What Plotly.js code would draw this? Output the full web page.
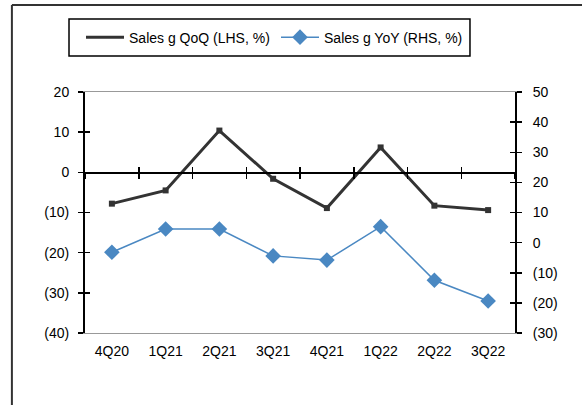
<!DOCTYPE html>
<html>
<head>
<meta charset="utf-8">
<script src="https://cdn.plot.ly/plotly-3.0.1.min.js"></script>
<style>html,body{margin:0;padding:0;background:#fff;}#chart{width:582px;height:405px;}</style>
</head>
<body>
<div id="chart"></div>
<script>
const quarters = ["4Q20","1Q21","2Q21","3Q21","4Q21","1Q22","2Q22","3Q22"];
const salesQoQ = [-7.8, -4.5, 10.4, -1.6, -8.9, 6.2, -8.3, -9.4];
const salesYoY = [-3.2, 4.5, 4.5, -4.4, -5.8, 5.3, -12.5, -19.4];
const leftTickVals = [20, 10, 0, -10, -20, -30, -40];
const leftTickText = ["20", "10", "0", "(10)", "(20)", "(30)", "(40)"];
const rightTickVals = [50, 40, 30, 20, 10, 0, -10, -20, -30];
const rightTickText = ["50", "40", "30", "20", "10", "0", "(10)", "(20)", "(30)"];
const seriesNames = ["Sales g QoQ (LHS, %)", "Sales g YoY (RHS, %)"];

const FONT = "Liberation Sans, Arial, sans-serif";
const dark = "#333333";
const blue = "#4a88c2";

const traces = [
  {x: quarters, y: salesQoQ, name: seriesNames[0], type: "scatter", mode: "lines",
   xaxis: "x", yaxis: "y", line: {color: dark, width: 3}},
  {x: quarters, y: salesQoQ, name: seriesNames[0], type: "scatter", mode: "markers", showlegend: false,
   xaxis: "x", yaxis: "y", marker: {symbol: "square", size: 6, color: dark}},
  {x: quarters, y: salesYoY, name: seriesNames[1], type: "scatter", mode: "lines+markers",
   xaxis: "x2", yaxis: "y2",
   line: {color: blue, width: 1.5}, marker: {symbol: "diamond", size: 12, color: blue}},
  {x: quarters, y: quarters.map(() => null), xaxis: "x3", yaxis: "y", showlegend: false,
   hoverinfo: "skip", type: "scatter", mode: "lines"},
  {x: quarters, y: quarters.map(() => null), xaxis: "x", yaxis: "y3", showlegend: false,
   hoverinfo: "skip", type: "scatter", mode: "lines"},
  {x: quarters, y: quarters.map(() => null), xaxis: "x", yaxis: "y4", showlegend: false,
   hoverinfo: "skip", type: "scatter", mode: "lines"}
];

const zeroPos = (0 - (-40)) / (20 - (-40));

const layout = {
  width: 582, height: 405,
  margin: {l: 85, r: 67, t: 92, b: 72},
  paper_bgcolor: "#fff", plot_bgcolor: "#fff",
  font: {family: FONT, size: 14, color: "#000"},
  showlegend: true,
  legend: {orientation: "h", x: -0.0093, xanchor: "left", y: 1.226, yanchor: "middle",
           borderwidth: 0, bgcolor: "rgba(0,0,0,0)", entrywidth: 142, itemwidth: 38,
           font: {family: FONT, size: 14, color: "#000"}, traceorder: "normal"},
  xaxis: {type: "category", range: [-0.5, 7.5], showline: true, linecolor: "#999", linewidth: 1,
          mirror: true, ticks: "", showgrid: false, zeroline: false,
          tickfont: {family: FONT, size: 14}, ticklabelstandoff: 5},
  xaxis2: {type: "category", range: [-0.5, 7.5], overlaying: "x", anchor: "free", position: zeroPos,
           showline: true, linecolor: "#000", linewidth: 1.5, ticks: "outside", tickson: "boundaries",
           ticklen: 5, tickwidth: 1.5, tickcolor: "#000", showticklabels: false, showgrid: false, zeroline: false},
  xaxis3: {type: "category", range: [-0.5, 7.5], overlaying: "x", anchor: "free", position: zeroPos,
           showline: false, ticks: "inside", tickson: "boundaries",
           ticklen: 5, tickwidth: 1.5, tickcolor: "#000", showticklabels: false, showgrid: false, zeroline: false},
  yaxis: {range: [-40, 20], tickvals: leftTickVals, ticktext: leftTickText, showline: true,
          linecolor: "#000", linewidth: 2, ticks: "outside", ticklen: 5, tickwidth: 1.5, tickcolor: "#000",
          showgrid: false, zeroline: false, tickfont: {family: FONT, size: 14}, ticklabelstandoff: 6},
  yaxis2: {range: [-30, 50], tickvals: rightTickVals, ticktext: rightTickText, overlaying: "y", side: "right",
           anchor: "x", showline: true, linecolor: "#000", linewidth: 2, ticks: "outside", ticklen: 5,
           tickwidth: 1.5, tickcolor: "#000", showgrid: false, zeroline: false,
           tickfont: {family: FONT, size: 14}, ticklabelstandoff: 8},
  yaxis3: {range: [-40, 20], tickvals: leftTickVals, overlaying: "y", side: "left", anchor: "x",
           showline: false, ticks: "inside", ticklen: 5, tickwidth: 1.5, tickcolor: "#000",
           showticklabels: false, showgrid: false, zeroline: false},
  yaxis4: {range: [-30, 50], tickvals: rightTickVals, overlaying: "y", side: "right", anchor: "x",
           showline: false, ticks: "inside", ticklen: 5, tickwidth: 1.5, tickcolor: "#000",
           showticklabels: false, showgrid: false, zeroline: false},
  shapes: [
    {type: "line", xref: "paper", yref: "paper", x0: -0.17, x1: -0.17, y0: -0.4, y1: 1.361,
     line: {color: "#333", width: 2}},
    {type: "line", xref: "paper", yref: "paper", x0: -0.17, x1: 1.2, y0: 1.361, y1: 1.361,
     line: {color: "#333", width: 2}},
    {type: "rect", xref: "paper", yref: "paper", x0: -0.0372, x1: 0.8953, y0: 1.1494, y1: 1.3029,
     line: {color: "#000", width: 1.5}, fillcolor: "rgba(0,0,0,0)"}
  ]
};

Plotly.newPlot("chart", traces, layout, {displayModeBar: false, staticPlot: true});
</script>
</body>
</html>
